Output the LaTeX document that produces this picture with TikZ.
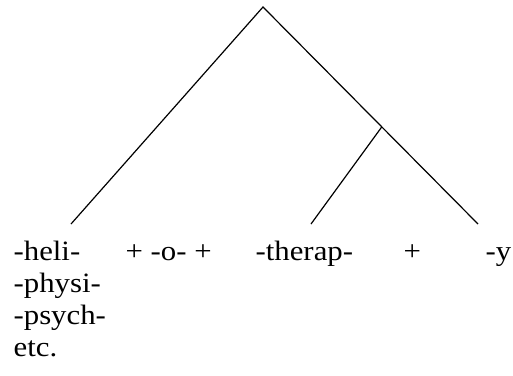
\documentclass[tikz,border=0pt]{standalone}
\usepackage{fontspec}
\setmainfont{Liberation Serif}[FakeStretch=1.1]
\usepackage{tikz}

\begin{document}
\begin{tikzpicture}[x=1pt,y=1pt,line width=1.2pt,
  morph/.style={anchor=base west,inner sep=0pt,font=\fontsize{28}{32}\selectfont}]
  \useasboundingbox (0,0) rectangle (513,-375);
  % tree
  \coordinate (top) at (263,-7);
  \coordinate (fork) at (382,-126.6);
  \coordinate (leftend) at (71,-224);
  \coordinate (midend) at (311,-224);
  \coordinate (rightend) at (478,-224);
  \draw (leftend) -- (top) -- (rightend);
  \draw (fork) -- (midend);
  % morphemes
  \node[morph] (heli) at (13,-260) {-heli-};
  \node[morph] (physi) at (13,-292) {-physi-};
  \node[morph] (psych) at (13,-324) {-psych-};
  \node[morph] (etc) at (13,-356) {etc.};
  \node[morph] (linko) at (125,-260) {+ -o- +};
  \node[morph] (therap) at (255,-260) {-therap-};
  \node[morph] (plus) at (403,-260) {+};
  \node[morph] (ysuf) at (485,-260) {-y};
\end{tikzpicture}
\end{document}
